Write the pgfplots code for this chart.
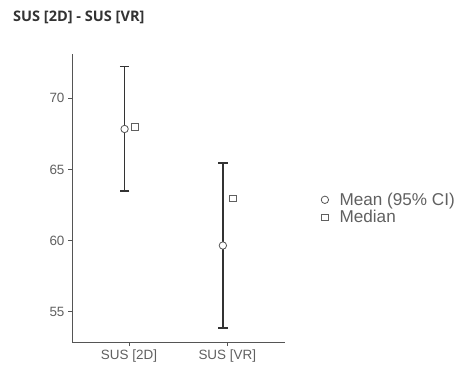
\documentclass[border=0pt]{standalone}
\usepackage{fontspec}
\setmainfont{Liberation Sans}
\newfontfamily\titlefont{Open Sans}
\usepackage{pgfplots}
\pgfplotsset{compat=1.18}
\definecolor{barc}{HTML}{333333}
\definecolor{axc}{HTML}{555555}
\definecolor{labc}{HTML}{606060}
\begin{document}
\begin{tikzpicture}
\path[use as bounding box] (-72bp,-27bp) rectangle (387bp,342bp);
\node[anchor=west, font=\titlefont\bfseries\fontsize{14.6}{16}\selectfont, text=barc, inner sep=0pt] at (-59bp,325bp) {SUS [2D] - SUS [VR]};
\begin{axis}[
  scale only axis,
  width=213bp, height=288bp,
  xmin=0.42, xmax=2.587,
  ymin=52.87, ymax=73.11,
  axis lines*=left,
  axis line style={axc, line width=0.9bp},
  xtick={1,2}, xticklabels={SUS [2D], SUS [VR]},
  ytick={55,60,65,70},
  tick align=outside,
  major tick length=4bp,
  tick style={axc, line width=0.9bp},
  tick label style={font=\fontsize{13.5}{15}\selectfont, text=labc},
  /pgf/number format/assume math mode=true,
  clip=false,
  legend style={draw=none, fill=none, at={(1.155,0.4635)}, anchor=west,
    font=\fontsize{17.2}{18}\selectfont, text=labc, row sep=-0.5bp,
    /tikz/every odd column/.append style={column sep=9bp}},
  legend cell align=left,
]
\addplot[only marks, mark=*, mark size=3.7bp, mark options={draw=axc, fill=white, line width=0.8bp},
  error bars/.cd, y dir=both, y explicit,
  error bar style={barc, line width=1.6bp},
  error mark options={barc, line width=1.6bp, mark size=4.7bp, rotate=90}]
  coordinates {
  (0.955,67.84) += (0,4.38) -= (0,4.37)
  (1.955,59.65) += (0,5.79) -= (0,5.80)
  };
\addlegendentry{Mean (95\% CI)}
\addplot[only marks, mark=square, mark size=3.3bp, mark options={draw=labc, fill=white, line width=0.8bp}]
  coordinates {
  (1.058,67.98)
  (2.055,62.96)
  };
\addlegendentry{Median}
\end{axis}
\end{tikzpicture}
\end{document}
